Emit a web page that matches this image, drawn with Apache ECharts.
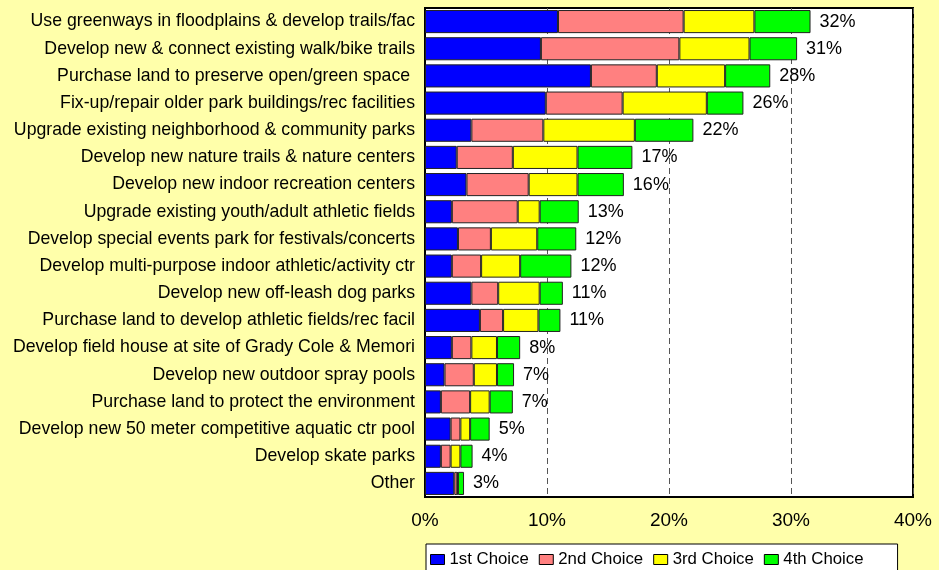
<!DOCTYPE html>
<html>
<head>
<meta charset="utf-8">
<script src="https://cdn.jsdelivr.net/npm/echarts@6/dist/echarts.min.js"></script>
<style>
  html, body { margin: 0; padding: 0; background: #FFFFAA; }
  #chart { width: 939px; height: 570px; }
</style>
</head>
<body>
<div id="chart"></div>
<script>
// categories, top to bottom
const categories = [
  'Use greenways in floodplains & develop trails/fac',
  'Develop new & connect existing walk/bike trails',
  'Purchase land to preserve open/green space ',
  'Fix-up/repair older park buildings/rec facilities',
  'Upgrade existing neighborhood & community parks',
  'Develop new nature trails & nature centers',
  'Develop new indoor recreation centers',
  'Upgrade existing youth/adult athletic fields',
  'Develop special events park for festivals/concerts',
  'Develop multi-purpose indoor athletic/activity ctr',
  'Develop new off-leash dog parks',
  'Purchase land to develop athletic fields/rec facil',
  'Develop field house at site of Grady Cole & Memori',
  'Develop new outdoor spray pools',
  'Purchase land to protect the environment',
  'Develop new 50 meter competitive aquatic ctr pool',
  'Develop skate parks',
  'Other'
]

const seriesNames = ['1st Choice', '2nd Choice', '3rd Choice', '4th Choice']

// percent of respondents per choice
const choice1 = [10.9, 9.5, 13.6, 9.9, 3.8, 2.6, 3.4, 2.2, 2.7, 2.2, 3.8, 4.5, 2.2, 1.6, 1.3, 2.1, 1.3, 2.4]
const choice2 = [10.3, 11.35, 5.4, 6.3, 5.9, 4.6, 5.1, 5.4, 2.7, 2.4, 2.2, 1.9, 1.6, 2.4, 2.4, 0.8, 0.8, 0.25]
const choice3 = [5.8, 5.75, 5.6, 6.9, 7.5, 5.3, 4.0, 1.8, 3.8, 3.2, 3.4, 2.9, 2.1, 1.9, 1.6, 0.8, 0.8, 0.05]
const choice4 = [4.6, 3.9, 3.7, 3.0, 4.8, 4.5, 3.8, 3.2, 3.2, 4.2, 1.9, 1.8, 1.9, 1.4, 1.9, 1.6, 1.0, 0.5]

// printed totals at bar ends
const totals = [32, 31, 28, 26, 22, 17, 16, 13, 12, 12, 11, 11, 8, 7, 7, 5, 4, 3]

const colors = ['#0000FF', '#FF8080', '#FFFF00', '#00FF00']
const FONT = 'Liberation Sans, Arial, sans-serif'

const chart = echarts.init(document.getElementById('chart'))

const allData = [choice1, choice2, choice3, choice4]
const series = allData.map((d, i) => {
  const s = {
    name: seriesNames[i],
    type: 'bar',
    stack: 'total',
    barCategoryGap: '15%',
    data: d,
    itemStyle: {
      color: colors[i],
      borderColor: '#222',
      borderWidth: 1
    },
    emphasis: { disabled: true }
  }
  if (i === 3) {
    s.label = {
      show: true,
      position: 'right',
      distance: 9,
      color: '#000',
      fontFamily: FONT,
      fontSize: 18,
      formatter: p => totals[p.dataIndex] + '%'
    }
  }
  return s
})

const option = {
  backgroundColor: '#FFFFAA',
  animation: false,
  grid: {
    left: 425,
    right: 26,
    top: 8,
    bottom: 73,
    show: true,
    backgroundColor: '#FFFFFF',
    borderColor: '#000',
    borderWidth: 2
  },
  legend: {
    data: seriesNames,
    left: 426,
    top: 544,
    orient: 'horizontal',
    backgroundColor: '#FFFFFF',
    borderColor: '#000',
    borderWidth: 1,
    padding: [7, 34, 12, 4],
    itemGap: 10,
    itemWidth: 14,
    itemHeight: 10,
    icon: 'rect',
    itemStyle: { borderColor: '#000', borderWidth: 1 },
    textStyle: { fontFamily: FONT, fontSize: 16.8, color: '#000' }
  },
  xAxis: {
    type: 'value',
    min: 0,
    max: 40,
    interval: 10,
    axisLine: { show: false },
    axisTick: { show: false },
    axisLabel: {
      formatter: '{value}%',
      fontFamily: FONT,
      fontSize: 19,
      color: '#000',
      margin: 14
    },
    splitLine: {
      show: true,
      lineStyle: { color: '#555', type: [6, 4], width: 1 }
    }
  },
  yAxis: {
    type: 'category',
    inverse: true,
    data: categories,
    axisLine: { show: true, lineStyle: { color: '#000', width: 2 } },
    axisTick: { show: false },
    axisLabel: {
      fontFamily: FONT,
      fontSize: 17.7,
      color: '#000',
      margin: 10
    }
  },
  series: series
}

chart.setOption(option)
</script>
</body>
</html>
